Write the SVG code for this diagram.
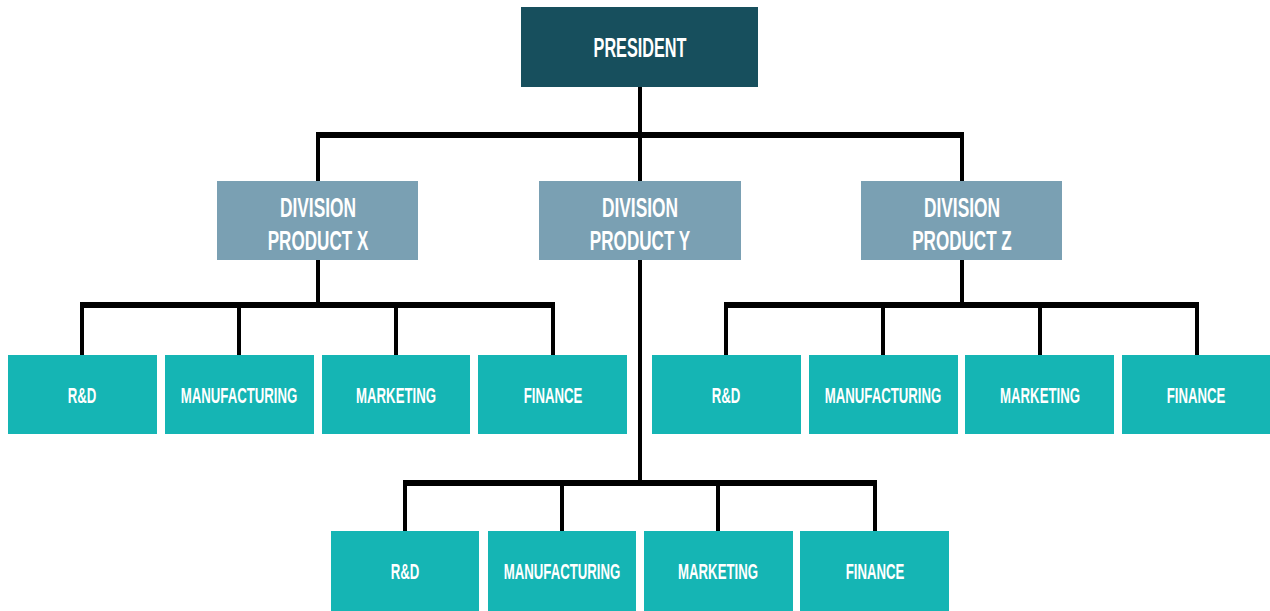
<svg xmlns="http://www.w3.org/2000/svg" width="1270" height="611" viewBox="0 0 1270 611">
<style>
.pres{fill:#174f5d}
.div{fill:#7aa0b3}
.dep{fill:#15b5b4}
text{font-family:"Liberation Sans",Arial,sans-serif;font-weight:bold;fill:#ffffff;text-anchor:middle}
.t1{font-size:28px}
.t2{font-size:28px}
.t3{font-size:22px}
.h{stroke:#000;stroke-width:6;fill:none}
.v{stroke:#000;stroke-width:4;fill:none}
</style>
<rect width="1270" height="611" fill="#ffffff"/>
<g id="connectors">
<line class="v" x1="640" y1="87" x2="640" y2="135"/>
<line class="h" x1="316" y1="135" x2="964" y2="135"/>
<line class="v" x1="318" y1="135" x2="318" y2="181"/>
<line class="v" x1="640" y1="135" x2="640" y2="181"/>
<line class="v" x1="962" y1="135" x2="962" y2="181"/>
<line class="v" x1="318" y1="260" x2="318" y2="305"/>
<line class="h" x1="80" y1="305" x2="555" y2="305"/>
<line class="v" x1="82" y1="305" x2="82" y2="355"/>
<line class="v" x1="239" y1="305" x2="239" y2="355"/>
<line class="v" x1="396" y1="305" x2="396" y2="355"/>
<line class="v" x1="553" y1="305" x2="553" y2="355"/>
<line class="v" x1="962" y1="260" x2="962" y2="305"/>
<line class="h" x1="724" y1="305" x2="1199" y2="305"/>
<line class="v" x1="726" y1="305" x2="726" y2="355"/>
<line class="v" x1="883" y1="305" x2="883" y2="355"/>
<line class="v" x1="1040" y1="305" x2="1040" y2="355"/>
<line class="v" x1="1197" y1="305" x2="1197" y2="355"/>
<line class="v" x1="640" y1="260" x2="640" y2="483"/>
<line class="h" x1="403" y1="483" x2="877" y2="483"/>
<line class="v" x1="405" y1="483" x2="405" y2="531"/>
<line class="v" x1="562" y1="483" x2="562" y2="531"/>
<line class="v" x1="718" y1="483" x2="718" y2="531"/>
<line class="v" x1="875" y1="483" x2="875" y2="531"/>
</g>
<g id="president"><rect class="pres" x="521" y="7" width="237" height="80"/><text class="t1" transform="translate(640,57) scale(0.58,1)">PRESIDENT</text></g>
<g id="div-x"><rect class="div" x="217" y="181" width="201" height="79"/><text class="t2" transform="translate(318,217) scale(0.62,1)">DIVISION</text><text class="t2" transform="translate(318,250) scale(0.61,1)">PRODUCT X</text></g>
<g id="div-y"><rect class="div" x="539" y="181" width="202" height="79"/><text class="t2" transform="translate(640,217) scale(0.62,1)">DIVISION</text><text class="t2" transform="translate(640,250) scale(0.61,1)">PRODUCT Y</text></g>
<g id="div-z"><rect class="div" x="861" y="181" width="201" height="79"/><text class="t2" transform="translate(962,217) scale(0.62,1)">DIVISION</text><text class="t2" transform="translate(962,250) scale(0.61,1)">PRODUCT Z</text></g>
<g id="x-rd"><rect class="dep" x="8" y="355" width="149" height="79"/><text class="t3" transform="translate(82,403) scale(0.6,1)">R&amp;D</text></g>
<g id="x-mfg"><rect class="dep" x="165" y="355" width="149" height="79"/><text class="t3" transform="translate(239,403) scale(0.6,1)">MANUFACTURING</text></g>
<g id="x-mkt"><rect class="dep" x="322" y="355" width="148" height="79"/><text class="t3" transform="translate(396,403) scale(0.6,1)">MARKETING</text></g>
<g id="x-fin"><rect class="dep" x="478" y="355" width="149" height="79"/><text class="t3" transform="translate(553,403) scale(0.6,1)">FINANCE</text></g>
<g id="z-rd"><rect class="dep" x="652" y="355" width="149" height="79"/><text class="t3" transform="translate(726,403) scale(0.6,1)">R&amp;D</text></g>
<g id="z-mfg"><rect class="dep" x="809" y="355" width="149" height="79"/><text class="t3" transform="translate(883,403) scale(0.6,1)">MANUFACTURING</text></g>
<g id="z-mkt"><rect class="dep" x="965" y="355" width="149" height="79"/><text class="t3" transform="translate(1040,403) scale(0.6,1)">MARKETING</text></g>
<g id="z-fin"><rect class="dep" x="1122" y="355" width="148" height="79"/><text class="t3" transform="translate(1196,403) scale(0.6,1)">FINANCE</text></g>
<g id="y-rd"><rect class="dep" x="331" y="531" width="148" height="80"/><text class="t3" transform="translate(405,579) scale(0.6,1)">R&amp;D</text></g>
<g id="y-mfg"><rect class="dep" x="488" y="531" width="148" height="80"/><text class="t3" transform="translate(562,579) scale(0.6,1)">MANUFACTURING</text></g>
<g id="y-mkt"><rect class="dep" x="644" y="531" width="149" height="80"/><text class="t3" transform="translate(718,579) scale(0.6,1)">MARKETING</text></g>
<g id="y-fin"><rect class="dep" x="800" y="531" width="149" height="80"/><text class="t3" transform="translate(875,579) scale(0.6,1)">FINANCE</text></g>
</svg>
